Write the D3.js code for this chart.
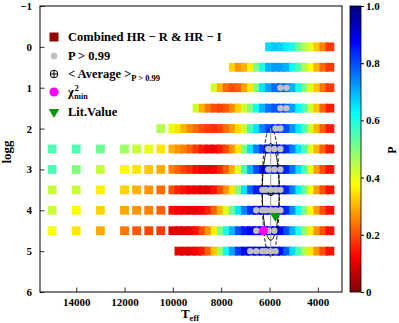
<!DOCTYPE html>
<html><head><meta charset="utf-8">
<script src="https://cdn.jsdelivr.net/npm/d3@7"></script>
<style>
body{margin:0;background:#fff}
svg{display:block}
text{font-family:"Liberation Serif","Times New Roman",serif;font-weight:bold;fill:#000}
</style>
</head><body><svg id="c" width="399" height="323"></svg>
<script>
// ---------------- data ----------------
const teffGrid = [10000,9750,9500,9250,9000,8750,8500,8250,8000,7750,7500,7250,7000,6750,6500,6250,6000,5750,5500,5250,5000,4750,4500,4250,4000,3750,3500];
const teffHot = [15000,14000,13000,12000,11500,11000,10500];
const pLogg0  = [0.66,0.68,0.67,0.64,0.6,0.52,0.45,0.4,0.32,0.25,0.18];
const pLogg05 = [0.33,0.27,0.3,0.36,0.5,0.6,0.7,0.72,0.72,0.7,0.62,0.55,0.45,0.38,0.3,0.23,0.18];
const pLogg1  = [0.42,0.3,0.23,0.2,0.22,0.28,0.35,0.5,0.65,0.72,0.77,0.78,0.77,0.7,0.6,0.5,0.4,0.32,0.24,0.18];
const pLogg15 = [0.42,0.3,0.24,0.2,0.19,0.21,0.26,0.33,0.42,0.5,0.6,0.7,0.76,0.79,0.8,0.78,0.72,0.63,0.55,0.42,0.32,0.22,0.15];
const pLogg2  = [0.4,0.35,0.3,0.26,0.23,0.2,0.18,0.17,0.19,0.23,0.28,0.34,0.42,0.55,0.65,0.75,0.8,0.82,0.82,0.8,0.73,0.65,0.55,0.42,0.3,0.22,0.15];
const pLogg25 = [0.3,0.27,0.25,0.22,0.18,0.15,0.13,0.12,0.15,0.2,0.27,0.35,0.5,0.65,0.75,0.82,0.85,0.86,0.85,0.83,0.75,0.65,0.55,0.4,0.3,0.22,0.15];
const pLogg3  = [0.25,0.22,0.19,0.17,0.14,0.11,0.1,0.12,0.16,0.22,0.3,0.4,0.55,0.7,0.8,0.86,0.88,0.88,0.87,0.84,0.76,0.66,0.55,0.4,0.28,0.2,0.14];
const pLogg35 = [0.2,0.16,0.14,0.12,0.11,0.1,0.1,0.14,0.2,0.27,0.35,0.5,0.65,0.78,0.85,0.87,0.89,0.89,0.88,0.84,0.75,0.64,0.52,0.38,0.28,0.2,0.14];
const pLogg4  = [0.14,0.12,0.11,0.1,0.1,0.12,0.16,0.22,0.3,0.4,0.52,0.65,0.75,0.83,0.87,0.88,0.9,0.9,0.88,0.84,0.74,0.62,0.5,0.37,0.28,0.2,0.14];
const pLogg45 = [0.1,0.1,0.1,0.11,0.14,0.2,0.27,0.36,0.5,0.6,0.7,0.8,0.85,0.87,0.88,0.88,0.9,0.9,0.87,0.8,0.7,0.6,0.48,0.36,0.27,0.2,0.14];
const pLogg5  = [0.1,0.1,0.1,0.12,0.15,0.22,0.32,0.47,0.62,0.72,0.82,0.87,0.88,0.9,0.9,0.9,0.9,0.86,0.78,0.66,0.55,0.45,0.35,0.27,0.2,0.14];
// hot isolated squares (teffHot order)
const pHot25 = [0.55,0.55,0.52,0.47,0.43,0.4,0.35];
const pHot3  = [0.55,0.5,0.43,0.37,0.35,0.32,0.29];
const pHot35 = [0.43,0.43,0.36,0.33,0.3,0.27,0.23];
const pHot4  = [0.43,0.38,0.33,0.29,0.27,0.25,0.22];
const pHot45 = [0.38,0.35,0.29,0.24,0.21,0.19,0.18];
const pHot2  = [0.45]; // only 10500 K
// P > 0.99 points (Teff per logg)
const hiLogg = [1,1.5,2,2.5,3,3.5,4,4.5,5];
const hiTeff = [
  [5550,5300],[5550,5300],[5750,5550],[6050,5800,5550],[6050,5800,5550],
  [6300,6150,5950,5750,5550],[6550,6300,6150,5950,5750,5550],[6550,6300,6050,5800],
  [6800,6550,6300,6150,5950,5750]];
const avgTeff = 5950, avgLogg = 3.55, sigTeff = 360, sigLogg = 1.58;
const chiTeff = 6250, chiLogg = 4.5;
const litTeff = 5760, litLogg = 4.14;
const xTicks = [14000,12000,10000,8000,6000,4000];
const yTicks = [-1,0,1,2,3,4,5,6];
const cbTicks = [0,0.2,0.4,0.6,0.8,1.0];

// ---------------- drawing ----------------
const svg = d3.select("#c");
svg.append("rect").attr("width",399).attr("height",323).attr("fill","#fff");
const x = d3.scaleLinear().domain([15500,3000]).range([40,342]);
const y = d3.scaleLinear().domain([-1,6]).range([6,292]);

function jetR(p){
  const t = 1-p, c = v=>Math.max(0,Math.min(1,v));
  return d3.rgb(255*c(Math.min(4*t-1.5,-4*t+4.5)),255*c(Math.min(4*t-0.5,-4*t+3.5)),255*c(Math.min(4*t+0.5,-4*t+2.5))).toString();
}

const rows = [[0,pLogg0],[0.5,pLogg05],[1,pLogg1],[1.5,pLogg15],[2,pLogg2],[2.5,pLogg25],[3,pLogg3],[3.5,pLogg35],[4,pLogg4],[4.5,pLogg45],[5,pLogg5]];
const hot = [[2,[10500],pHot2],[2.5,teffHot,pHot25],[3,teffHot,pHot3],[3.5,teffHot,pHot35],[4,teffHot,pHot4],[4.5,teffHot,pHot45]];
const pts = [];
hot.forEach(([g,ts,ps])=>ts.forEach((t,i)=>pts.push({t,g,p:ps[i]})));
rows.forEach(([g,ps])=>{
  const ts = teffGrid.slice(teffGrid.length-ps.length);
  ts.forEach((t,i)=>pts.push({t,g,p:ps[i]}));
});
const S = 8.8;
svg.append("g").selectAll("rect").data(pts).join("rect")
  .attr("x",d=>x(d.t)-S/2).attr("y",d=>y(d.g)-S/2)
  .attr("width",S).attr("height",S).attr("fill",d=>jetR(d.p));

function oplus(g,cx,cy,r){
  g.append("circle").attr("cx",cx).attr("cy",cy).attr("r",r).attr("fill","none").attr("stroke","#000").attr("stroke-width",1);
  g.append("line").attr("x1",cx-r).attr("x2",cx+r).attr("y1",cy).attr("y2",cy).attr("stroke","#000").attr("stroke-width",1);
  g.append("line").attr("x1",cx).attr("x2",cx).attr("y1",cy-r).attr("y2",cy+r).attr("stroke","#000").attr("stroke-width",1);
}
// average ellipses
const ex = x(avgTeff), ey = y(avgLogg);
const rx = Math.abs(x(avgTeff+sigTeff)-ex), ry = Math.abs(y(avgLogg+sigLogg)-ey);
svg.append("line").attr("x1",ex).attr("x2",ex).attr("y1",ey-ry).attr("y2",ey+ry).attr("stroke","#9a9a9a").attr("stroke-width",1);
svg.append("ellipse").attr("cx",ex).attr("cy",ey).attr("rx",rx).attr("ry",ry)
  .attr("fill","none").attr("stroke","#000").attr("stroke-width",0.9).attr("stroke-dasharray","3.5,2");
svg.append("ellipse").attr("cx",ex).attr("cy",ey).attr("rx",rx*0.97).attr("ry",ry*0.75)
  .attr("fill","none").attr("stroke","#000").attr("stroke-width",0.9);
oplus(svg,ex,ey,3.6);

// grey P>0.99 dots
const dots = [];
hiLogg.forEach((g,i)=>hiTeff[i].forEach(t=>dots.push({t,g})));
svg.append("g").selectAll("circle").data(dots).join("circle")
  .attr("cx",d=>x(d.t)).attr("cy",d=>y(d.g)).attr("r",3.2).attr("fill","#c0c0c0");

// chi2 min and literature value
svg.append("circle").attr("cx",x(chiTeff)).attr("cy",y(chiLogg)).attr("r",4.6).attr("fill","#ff00ff");
const tri = d3.symbol().type(d3.symbolTriangle).size(48);
svg.append("path").attr("d",tri()).attr("transform",`translate(${x(litTeff)},${y(litLogg)}) rotate(180)`).attr("fill","#0a960a");

// frame
svg.append("rect").attr("x",40).attr("y",6).attr("width",302).attr("height",286).attr("fill","none").attr("stroke","#000").attr("stroke-width",1);

// axes
const xMinor = [];
for (let v=3200; v<15500; v+=200) xMinor.push(v);
const yMinor = [];
for (let v=-10; v<=60; v++) yMinor.push(v/10);
const gx = svg.append("g").attr("transform","translate(0,292)");
gx.call(d3.axisBottom(x).tickValues(xMinor).tickSize(-2).tickFormat(""));
gx.call(d3.axisBottom(x).tickValues(xTicks).tickSize(-4.5).tickPadding(6).tickFormat(d3.format("d")));
gx.selectAll(".domain").remove();
gx.selectAll("text").attr("font-size",11).attr("font-family","Liberation Serif").attr("font-weight","bold");
const gy = svg.append("g").attr("transform","translate(40,0)");
gy.call(d3.axisLeft(y).tickValues(yMinor).tickSize(-2).tickFormat(""));
gy.call(d3.axisLeft(y).tickValues(yTicks).tickSize(-4.5).tickPadding(8).tickFormat(d=>d<0?"\u2212"+(-d):d));
gy.selectAll(".domain").remove();
gy.selectAll("text").attr("font-size",11).attr("font-family","Liberation Serif").attr("font-weight","bold");
svg.selectAll(".tick line").attr("stroke","#000").attr("stroke-width",0.8);

// axis labels
const xl = svg.append("text").attr("x",190).attr("y",318).attr("text-anchor","middle").attr("font-size",13);
xl.append("tspan").text("T");
xl.append("tspan").attr("font-size",8.5).attr("dy",2.5).text("eff");
svg.append("text").attr("transform","translate(11,152) rotate(-90)").attr("text-anchor","middle").attr("font-size",13).text("logg");

// colorbar
const defs = svg.append("defs");
const grad = defs.append("linearGradient").attr("id","cb").attr("x1",0).attr("y1",1).attr("x2",0).attr("y2",0);
for (let i=0;i<=40;i++){ grad.append("stop").attr("offset",i/40).attr("stop-color",jetR(i/40)); }
svg.append("rect").attr("x",350).attr("y",6).attr("width",11).attr("height",286).attr("fill","url(#cb)").attr("stroke","#000").attr("stroke-width",0.8);
const cy = d3.scaleLinear().domain([0,1]).range([292,6]);
const gc = svg.append("g").attr("transform","translate(361,0)");
gc.call(d3.axisRight(cy).tickValues(cbTicks).tickSize(3).tickPadding(2).tickFormat(d=>d===0?"0":d3.format(".1f")(d)));
gc.selectAll(".domain").remove();
gc.selectAll("text").attr("font-size",11).attr("font-family","Liberation Serif").attr("font-weight","bold");
gc.selectAll(".tick line").attr("stroke","#000");
svg.append("text").attr("transform","translate(396,150) rotate(-90)").attr("text-anchor","middle").attr("font-size",12).text("P");

// legend
const lg = svg.append("g");
const ly = [37,56,74,92,112];
lg.append("rect").attr("x",54-4.5).attr("y",ly[0]-4.5).attr("width",9).attr("height",9).attr("fill",jetR(0.02));
lg.append("circle").attr("cx",54).attr("cy",ly[1]).attr("r",3.3).attr("fill","#c0c0c0");
oplus(lg,54,ly[2],3.8);
lg.append("circle").attr("cx",54).attr("cy",ly[3]).attr("r",4.6).attr("fill","#ff00ff");
lg.append("path").attr("d",tri()).attr("transform",`translate(54,${ly[4]}) rotate(180)`).attr("fill","#0a960a");
const fs = 12.5;
lg.append("text").attr("x",68).attr("y",ly[0]+4).attr("font-size",fs).text("Combined HR \u2212 R & HR \u2212 I");
lg.append("text").attr("x",68).attr("y",ly[1]+4).attr("font-size",fs).text("P > 0.99");
const t3 = lg.append("text").attr("x",68).attr("y",ly[2]+4).attr("font-size",fs);
t3.append("tspan").text("< Average >");
t3.append("tspan").attr("font-size",8.5).attr("dy",3).text("P > 0.99");
const t4 = lg.append("text").attr("x",68).attr("y",ly[3]+4).attr("font-size",fs);
t4.append("tspan").text("\u03c7");
t4.append("tspan").attr("font-size",8).attr("dx",1).attr("dy",-5).text("2");
t4.append("tspan").attr("font-size",8).attr("dx",-4.5).attr("dy",8).text("min");
lg.append("text").attr("x",68).attr("y",ly[4]+4).attr("font-size",fs).text("Lit.Value");
</script></body></html>
